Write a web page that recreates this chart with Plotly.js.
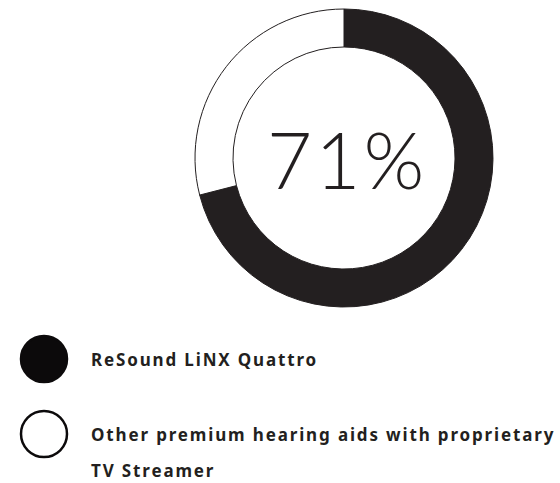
<!DOCTYPE html>
<html>
<head>
<meta charset="utf-8">
<script src="https://cdn.plot.ly/plotly-3.0.1.min.js"></script>
<style>
html,body{margin:0;padding:0;background:#fff;}
#chart{width:560px;height:483px;}
</style>
</head>
<body>
<div id="chart"></div>
<script>
const labels = ["ReSound LiNX Quattro", "Other premium hearing aids with proprietary<br>TV Streamer"];
const values = [71, 29];
const colors = ["#231f20", "#ffffff"];

const W = 560, H = 483;
const cx = 344, cy = 158, R = 149;
const px = x => x / W;
const py = y => 1 - y / H;

const total = values.reduce((a, b) => a + b, 0);
const pct = Math.round(values[0] / total * 100) + "%";

const trace = {
  type: "pie",
  labels: labels,
  values: values,
  marker: {colors: colors, line: {color: "#231f20", width: 1}},
  hole: 0.745,
  sort: false,
  direction: "clockwise",
  rotation: 0,
  textinfo: "none",
  hoverinfo: "none",
  showlegend: false,
  domain: {x: [px(cx - R), px(cx + R)], y: [py(cy + R), py(cy - R)]}
};

const legendY = [359, 434];
const legendX = 44;
const shapes = [];
const annotations = [{
  text: pct, xref: "paper", yref: "paper", x: px(cx + 1), y: py(cy + 1),
  xanchor: "center", yanchor: "middle", showarrow: false,
  font: {family: "Lato", size: 78, weight: 300, color: "#231f20"}
}];

labels.forEach((lab, i) => {
  shapes.push({
    type: "circle", xref: "paper", yref: "paper",
    xsizemode: "pixel", ysizemode: "pixel",
    xanchor: px(legendX), yanchor: py(legendY[i]),
    x0: -23, x1: 23, y0: -23, y1: 23,
    fillcolor: i === 0 ? "#0c0a0b" : colors[i],
    line: {color: "#0c0a0b", width: 2.5}
  });
  lab.split("<br>").forEach((line, j) => {
    annotations.push({
      text: line, xref: "paper", yref: "paper",
      x: px(89), y: py(legendY[i] + j * 36),
      xanchor: "left", yanchor: "middle", showarrow: false,
      font: {family: "Noto Sans", size: 17, weight: 700, color: "#231f20"}
    });
  });
});

const layout = {
  width: W, height: H,
  margin: {l: 0, r: 0, t: 0, b: 0},
  paper_bgcolor: "#ffffff",
  plot_bgcolor: "#ffffff",
  shapes: shapes,
  annotations: annotations
};

Plotly.newPlot("chart", [trace], layout, {staticPlot: true}).then(() => {
  document.querySelectorAll(".annotation-text").forEach((t, k) => {
    const before = t.getBBox();
    t.style.letterSpacing = k === 0 ? "3px" : "1.85px";
    const after = t.getBBox();
    let dx;
    if (k === 0) {
      dx = (before.x + before.width / 2) - (after.x + after.width / 2) + 1.5;
    } else {
      dx = before.x - after.x;
    }
    const old = t.getAttribute("transform") || "";
    t.setAttribute("transform", "translate(" + dx + ",0) " + old);
  });
});
</script>
</body>
</html>
